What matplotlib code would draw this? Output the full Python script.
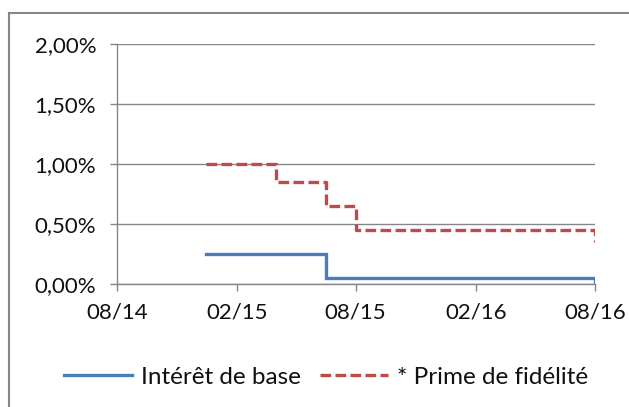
import matplotlib
matplotlib.use("Agg")
import matplotlib.pyplot as plt
import matplotlib.dates as mdates
from matplotlib.lines import Line2D
from matplotlib.ticker import FuncFormatter, FixedLocator
import datetime as dt

plt.rcParams['font.family'] = ['Lato', 'DejaVu Sans']

# Data
base_dates = ["2014-12-15", "2015-06-16", "2016-08-01"]
base_values = [0.25, 0.05, 0.00]
prime_dates = ["2014-12-15", "2015-04-01", "2015-06-16", "2015-08-01", "2016-08-01"]
prime_values = [1.00, 0.85, 0.65, 0.45, 0.35]
x_ticks = ["2014-08-01", "2015-02-01", "2015-08-01", "2016-02-01", "2016-08-01"]
y_ticks = [0.0, 0.5, 1.0, 1.5, 2.0]
labels = ["Intérêt de base", "* Prime de fidélité"]

def to_dt(s):
    return dt.datetime.strptime(s, "%Y-%m-%d")

bd = [to_dt(d) for d in base_dates]
pd_ = [to_dt(d) for d in prime_dates]
xt = [mdates.date2num(to_dt(d)) for d in x_ticks]

W, H = 629, 407
fig = plt.figure(figsize=(W/100, H/100), dpi=100)
ax = fig.add_axes([117/W, 1-284/H, (595-117)/W, (284-44)/H])

blue = "#4A7EBB"
red = "#BE4B48"
grid = "#868686"
dash = (3.2, 1.3)

ax.step(bd, base_values, where="post", color=blue, lw=2.4, solid_joinstyle="miter", zorder=3)
ax.step(pd_, prime_values, where="post", color=red, lw=2.4, dashes=dash, zorder=3)

ax.set_xlim(xt[0], xt[-1])
ax.set_ylim(0, 2.0)
ax.xaxis.set_major_locator(FixedLocator(xt))
ax.xaxis.set_major_formatter(mdates.DateFormatter("%m/%y"))
ax.set_yticks(y_ticks)
ax.yaxis.set_major_formatter(FuncFormatter(lambda v, p: f"{v:.2f}".replace(".", ",") + "%"))

ax.grid(axis="y", color=grid, lw=1.0)
ax.set_axisbelow(True)
for s in ["top", "right"]:
    ax.spines[s].set_visible(False)
for s in ["left", "bottom"]:
    ax.spines[s].set_color(grid)
    ax.spines[s].set_linewidth(1.0)
ax.tick_params(axis="both", colors=grid, labelcolor="#111111", labelsize=16, length=5, width=1.0)
ax.tick_params(axis="y", pad=10)
ax.tick_params(axis="x", pad=8)

handles = [Line2D([], [], color=blue, lw=2.4),
           Line2D([], [], color=red, lw=2.4, dashes=dash)]
fig.legend(handles, labels, loc="center", bbox_to_anchor=(326/W, 1-377/H), ncol=2,
           frameon=False, fontsize=17.5, handlelength=2.8, handletextpad=0.35, columnspacing=0.8,
           labelcolor="#111111")

# outer chart frame
fig.add_artist(Line2D([9/W, 1.0], [1-13/H, 1-13/H], color=grid, lw=1.5, transform=fig.transFigure))
fig.add_artist(Line2D([9/W, 9/W], [1-13/H, 0.0], color=grid, lw=1.5, transform=fig.transFigure))

fig.savefig("out.png", dpi=100)
